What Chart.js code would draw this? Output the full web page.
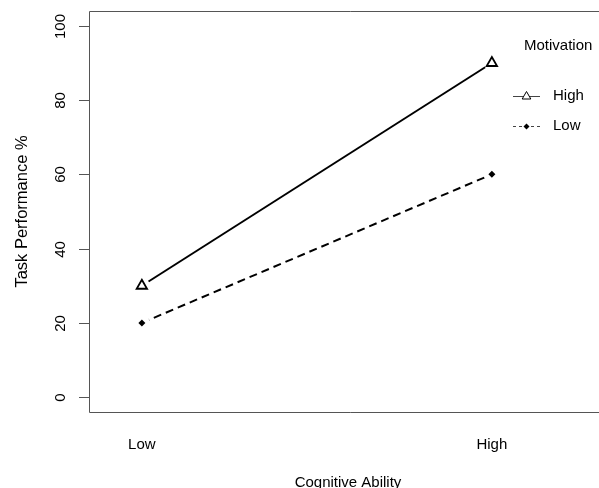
<!DOCTYPE html>
<html>
<head>
<meta charset="utf-8">
<script src="https://cdn.jsdelivr.net/npm/chart.js@4"></script>
<style>
  html, body { margin: 0; padding: 0; background: #fff; overflow: hidden; }
  #wrap { width: 610px; height: 488px; }
</style>
</head>
<body>
<div id="wrap"><canvas id="myChart" width="610" height="488"></canvas></div>
<script>
// values
const categories = ['Low', 'High'];          // Cognitive Ability
const seriesNames = ['High', 'Low'];         // Motivation
const highValues = [30, 90];
const lowValues = [20, 60];
const yTicks = [0, 20, 40, 60, 80, 100];

const FONT = '15px "Liberation Sans", Arial, sans-serif';
const AXIS_COL = '#555';

const ctx = document.getElementById('myChart');

// white gap round each marker, like R's type = "b"
const markerGaps = {
    id: 'markerGaps',
    afterDatasetsDraw(chart) {
        const c = chart.ctx;
        c.save();
        chart.data.datasets.forEach((ds, i) => {
            let meta = chart.getDatasetMeta(i);
            for (let pt of meta.data) {
                c.fillStyle = '#fff';
                c.beginPath();
                c.arc(pt.x, pt.y, 8, 0, Math.PI * 2);
                c.fill();
                pt.draw(c);
            }
        });
        c.restore();
    }
};

// draws the R-style box, ticks, labels and legend
const rAxes = {
    id: 'rAxes',
    afterDraw(chart) {
        const c = chart.ctx;
        const area = chart.chartArea;
        const xs = chart.scales.x;
        const ys = chart.scales.y;
        c.save();
        c.strokeStyle = AXIS_COL;
        c.lineWidth = 1;
        // box: left, top, bottom
        c.beginPath();
        c.moveTo(area.right + 5, area.top + 0.5);
        c.lineTo(area.left + 0.5, area.top + 0.5);
        c.lineTo(area.left + 0.5, area.bottom + 0.5);
        c.lineTo(area.right + 5, area.bottom + 0.5);
        c.stroke();

        c.fillStyle = '#000';
        c.font = FONT;
        c.textAlign = 'center';
        c.textBaseline = 'middle';

        // y ticks
        for (let t of yTicks) {
            let py = Math.round(ys.getPixelForValue(t)) + 0.5;
            c.beginPath();
            c.moveTo(area.left - 10, py);
            c.lineTo(area.left, py);
            c.stroke();
            c.save();
            c.translate(area.left - 28, py);
            c.rotate(-Math.PI / 2);
            c.fillText(String(t), 0, 0);
            c.restore();
        }

        // x labels
        for (let i = 0; i < categories.length; i++) {
            c.fillText(categories[i], xs.getPixelForValue(i + 1), area.bottom + 33);
        }

        // axis titles
        c.fillText('Cognitive Ability', (area.left + area.right) / 2, area.bottom + 71);
        c.save();
        c.translate(22, (area.top + area.bottom) / 2);
        c.rotate(-Math.PI / 2);
        c.font = '16.5px "Liberation Sans", Arial, sans-serif';
        c.fillText('Task Performance %', 0, 0);
        c.restore();

        // legend
        c.textAlign = 'left';
        c.fillText('Motivation', 524, 46);
        const rows = [96, 126];
        for (let i = 0; i < seriesNames.length; i++) {
            let ds = chart.data.datasets[i];
            let y = rows[i] + 0.5;
            c.strokeStyle = '#444';
            c.lineWidth = 1;
            c.setLineDash(i === 0 ? [] : [3, 3]);
            c.beginPath();
            c.moveTo(513, y);
            c.lineTo(540, y);
            c.stroke();
            c.setLineDash([]);
            c.fillStyle = i === 0 ? '#fff' : '#000';
            c.strokeStyle = '#000';
            Chart.helpers.drawPoint(c, {
                pointStyle: ds.pointStyle,
                radius: i === 0 ? 5 : 3,
                borderWidth: i === 0 ? 1 : 0
            }, 526.5, y);
            c.fillStyle = '#000';
            c.fillText(seriesNames[i], 553, rows[i]);
        }
        c.restore();
    }
};

let chart = new Chart(ctx, {
    type: 'line',
    data: {
        datasets: [
            {
                label: seriesNames[0],
                data: highValues.map((v, i) => ({ x: i + 1, y: v })),
                borderColor: '#000',
                borderWidth: 2,
                pointStyle: 'triangle',
                pointRadius: 6,
                pointBorderWidth: 1.8,
                pointBorderColor: '#000',
                pointBackgroundColor: '#fff',
                tension: 0
            },
            {
                label: seriesNames[1],
                data: lowValues.map((v, i) => ({ x: i + 1, y: v })),
                borderColor: '#000',
                borderWidth: 2,
                borderDash: [8, 5],
                pointStyle: 'rectRot',
                pointRadius: 3.5,
                pointBorderWidth: 0,
                pointBackgroundColor: '#000',
                tension: 0
            }
        ]
    },
    options: {
        responsive: false,
        animation: false,
        layout: { autoPadding: false, padding: { left: 89, top: 11, right: 3, bottom: 76 } },
        plugins: { legend: { display: false }, tooltip: { enabled: false } },
        scales: {
            x: { type: 'linear', display: false, min: 0.849, max: 2.329 },
            y: { type: 'linear', display: false, min: -4, max: 104 }
        }
    },
    plugins: [markerGaps, rAxes]
});
</script>
</body>
</html>
